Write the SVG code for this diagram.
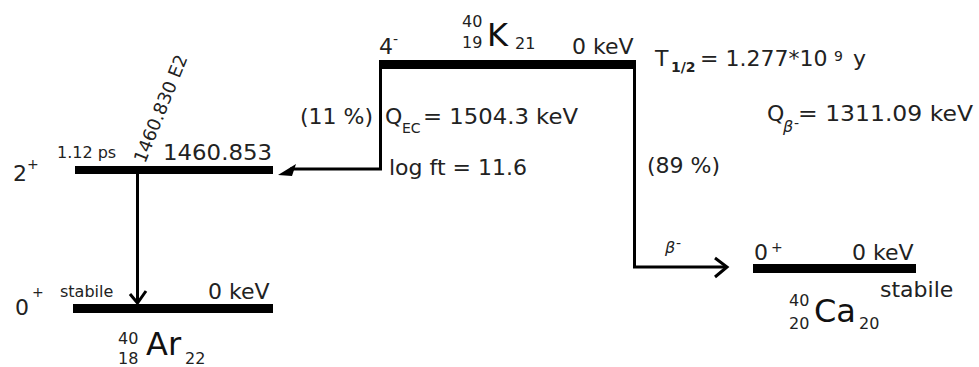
<svg xmlns="http://www.w3.org/2000/svg" width="979" height="367" viewBox="0 0 979 367">
<style>
text{font-family:"DejaVu Sans","Liberation Sans",sans-serif;fill:#222}
.m{font-size:22px}
.s{font-size:16px}
.xs{font-size:14px}
.big{font-size:32px;fill:#111}
.bar{fill:#000}
.ln{fill:none;stroke:#000;stroke-width:3}
</style>
<rect width="979" height="367" fill="#fff"/>
<g id="K40">
<rect class="bar" x="379" y="60" width="257" height="9"/>
<text class="m" x="379" y="54">4</text><text class="xs" x="393" y="44">-</text>
<text class="s" x="462" y="27">40</text><text class="s" x="462" y="48">19</text>
<text class="big" x="487" y="46">K</text><text class="s" x="515" y="49">21</text>
<text class="m" x="572" y="54">0 keV</text>
<text class="m" x="655" y="66">T</text><text class="xs" x="671" y="72" font-weight="bold">1/2</text>
<text class="m" x="700" y="66">= 1.277*10</text><text class="xs" x="834" y="61">9</text>
<text class="m" x="853" y="66">y</text>
<text class="m" x="767" y="121">Q</text><text class="s" x="783" y="132" font-style="italic">β</text><text class="xs" x="794" y="128">-</text>
<text class="m" x="798" y="121" textLength="175" lengthAdjust="spacingAndGlyphs">= 1311.09 keV</text>
<text class="m" x="300" y="124">(11 %)</text>
<text class="m" x="385" y="124">Q</text><text class="xs" x="402" y="133">EC</text>
<text class="m" x="423" y="124" textLength="155" lengthAdjust="spacingAndGlyphs">= 1504.3 keV</text>
<text class="m" x="389" y="175">log ft = 11.6</text>
<text class="m" x="647" y="173">(89 %)</text>
</g>
<g id="Ar40-2plus">
<rect class="bar" x="75" y="166" width="198" height="8"/>
<text class="m" x="13" y="181">2</text><text class="xs" x="27" y="169">+</text>
<text class="s" x="57" y="158">1.12 ps</text>
<text class="m" x="163" y="160" textLength="109" lengthAdjust="spacingAndGlyphs">1460.853</text>
</g>
<g id="Ar40-ground">
<rect class="bar" x="73" y="304" width="200" height="9"/>
<text class="m" x="15" y="315">0</text><text class="xs" x="32" y="297">+</text>
<text class="s" x="60" y="297">stabile</text>
<text class="m" x="208" y="299">0 keV</text>
<text class="s" x="118" y="344">40</text><text class="s" x="118" y="364">18</text>
<text class="big" x="146" y="355">Ar</text><text class="s" x="185" y="364">22</text>
</g>
<g id="Ca40">
<rect class="bar" x="753" y="264" width="163" height="9"/>
<text class="m" x="754" y="260">0</text><text class="xs" x="771" y="252">+</text>
<text class="m" x="852" y="260">0 keV</text>
<text class="m" x="880" y="297">stabile</text>
<text class="s" x="789" y="306">40</text><text class="s" x="789" y="329">20</text>
<text class="big" x="814" y="322" font-size="31">Ca</text><text class="s" x="859" y="329">20</text>
</g>
<g id="connectors">
<path class="ln" d="M380.5,64 V169 H290"/>
<polygon points="278,175 296,164 292,176" fill="#000"/>
<path class="ln" d="M634.5,64 V267 H726"/>
<path class="ln" d="M715,258 L727,267 L715,277"/>
<text class="s" x="665" y="253" font-style="italic">β</text><text class="xs" x="676" y="248">-</text>
<path class="ln" d="M137.5,174 V303"/>
<path class="ln" d="M130,294 L137.5,303 L146,291"/>
<text transform="translate(145,164) rotate(-68)" font-size="18">1460.830 E2</text>
</g>
</svg>
